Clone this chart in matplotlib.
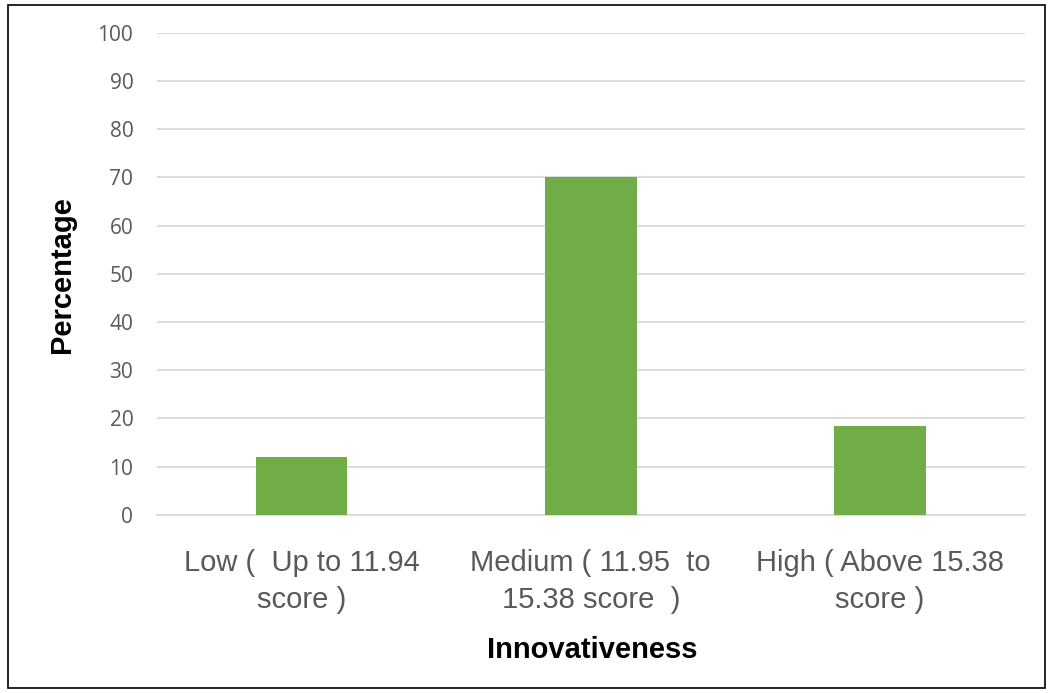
import matplotlib
matplotlib.use("Agg")
import matplotlib.pyplot as plt
from matplotlib.patches import Rectangle

# Share of respondents by innovativeness level
categories = ["Low (  Up to 11.94\nscore )",
              "Medium ( 11.95  to\n15.38 score  )",
              "High ( Above 15.38\nscore )"]
percentages = [11.9, 70.0, 18.5]
y_ticks = [0, 10, 20, 30, 40, 50, 60, 70, 80, 90, 100]

BAR_COLOR = "#70AD47"
GRID_COLOR = "#D9D9D9"
TEXT_GRAY = "#595959"

fig = plt.figure(figsize=(10.53, 6.93), dpi=100)
ax = fig.add_axes([0.149, 0.2573, 0.824, 0.6951])

x = range(len(categories))
ax.bar(x, percentages, width=0.318, color=BAR_COLOR, zorder=3)

ax.set_xlim(-0.5, len(categories) - 0.5)
ax.set_ylim(0, 100)
ax.set_yticks(y_ticks)
ax.set_xticks(list(x))
ax.set_xticklabels(categories, fontsize=21, color=TEXT_GRAY,
                   family=["Liberation Sans", "DejaVu Sans"], linespacing=1.4)
ax.set_yticklabels([str(t) for t in y_ticks], fontsize=15, color=TEXT_GRAY,
                   family=["Open Sans", "DejaVu Sans"])
ax.tick_params(axis="x", length=0, pad=25)
ax.tick_params(axis="y", length=0, pad=17)

ax.grid(True, axis="y", color=GRID_COLOR, linewidth=1.3, zorder=0)
for side in ["top", "right", "left"]:
    ax.spines[side].set_visible(False)
ax.spines["bottom"].set_color(GRID_COLOR)
ax.spines["bottom"].set_linewidth(1.3)

# axis titles
fig.text(70 / 1053, 1 - 275 / 693, "Percentage", rotation=90,
         rotation_mode="anchor", ha="center", va="baseline",
         fontsize=21, fontweight="bold", family="Liberation Sans")
fig.text(592 / 1053, 1 - 658 / 693, "Innovativeness", ha="center",
         va="baseline", fontsize=21, fontweight="bold",
         family="Liberation Sans")

# chart frame
fig.patches.append(Rectangle((8 / 1053, 5 / 693), 1037 / 1053, 683 / 693,
                             transform=fig.transFigure, fill=False,
                             edgecolor="black", linewidth=1.2))

fig.savefig("out.png", dpi=100)
